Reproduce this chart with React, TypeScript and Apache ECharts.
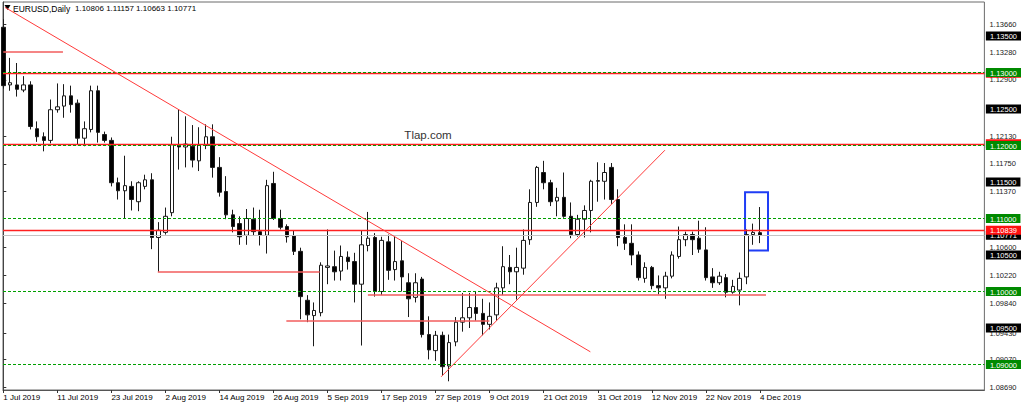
import React, { useEffect, useRef } from "react";
import * as echarts from "echarts";

// ---- data (daily EURUSD, 1 Jul 2019 .. 4 Dec 2019) ----
const opens = [
  1.1362, 1.1283, 1.1283, 1.1276, 1.1283, 1.1223, 1.1212, 1.1207, 1.1249, 1.1254,
  1.1268, 1.1258, 1.1210, 1.1222, 1.1275, 1.1215, 1.1207, 1.1149, 1.1138, 1.1144,
  1.1123, 1.1144, 1.1153, 1.1074, 1.1081, 1.1108, 1.1201, 1.1198, 1.1199, 1.1179,
  1.1200, 1.1212, 1.1170, 1.1137, 1.1105, 1.1093, 1.1077, 1.1099, 1.1082, 1.1077,
  1.1148, 1.1100, 1.1089, 1.1076, 1.1055, 1.0988, 1.0967, 1.0971, 1.1033, 1.1034,
  1.1028, 1.1047, 1.1041, 1.1010, 1.1063, 1.1074, 1.1000, 1.1068, 1.1030, 1.1042,
  1.1012, 1.0992, 1.1017, 1.0941, 1.0919, 1.0940, 1.0898, 1.0931, 1.0958, 1.0964,
  1.0978, 1.0970, 1.0955, 1.0968, 1.1005, 1.1033, 1.1027, 1.1032, 1.1071, 1.1122,
  1.1163, 1.1149, 1.1124, 1.1129, 1.1103, 1.1078, 1.1099, 1.1111, 1.1151, 1.1151,
  1.1170, 1.1126, 1.1074, 1.1066, 1.1050, 1.1018, 1.1033, 1.1008, 1.1005, 1.1021,
  1.1048, 1.1071, 1.1078, 1.1073, 1.1057, 1.1020, 1.1012, 1.1019, 1.0999, 1.1002,
  1.1020, 1.1078, 1.10806,
];
const highs = [
  1.1373, 1.1320, 1.1313, 1.1295, 1.1288, 1.1233, 1.1218, 1.1263, 1.1285, 1.1284,
  1.1282, 1.1263, 1.1233, 1.1282, 1.1282, 1.1219, 1.1211, 1.1156, 1.1186, 1.1151,
  1.1151, 1.1160, 1.1162, 1.1095, 1.1115, 1.1212, 1.1250, 1.1240, 1.1228, 1.1225,
  1.1229, 1.1229, 1.1184, 1.1158, 1.1112, 1.1103, 1.1113, 1.1115, 1.1112, 1.1153,
  1.1164, 1.1112, 1.1092, 1.1084, 1.1060, 1.0995, 1.0985, 1.1040, 1.1085, 1.1056,
  1.1063, 1.1055, 1.1053, 1.1083, 1.1109, 1.1080, 1.1075, 1.1078, 1.1075, 1.1069,
  1.1025, 1.1025, 1.1020, 1.0966, 1.0946, 1.0945, 1.0941, 1.0965, 1.0998, 1.0998,
  1.1000, 1.0990, 1.0985, 1.1012, 1.1062, 1.1050, 1.1060, 1.1085, 1.1140, 1.1172,
  1.1179, 1.1153, 1.1142, 1.1163, 1.1122, 1.1105, 1.1118, 1.1153, 1.1177, 1.1176,
  1.1176, 1.1140, 1.1092, 1.1092, 1.1055, 1.1040, 1.1035, 1.1022, 1.1027, 1.1055,
  1.1089, 1.1082, 1.1082, 1.1097, 1.1088, 1.1032, 1.1027, 1.1024, 1.1016, 1.1026,
  1.1085, 1.1093, 1.11157,
];
const lows = [
  1.1278, 1.1275, 1.1267, 1.1273, 1.1222, 1.1205, 1.1192, 1.1203, 1.1245, 1.1238,
  1.1245, 1.1201, 1.1199, 1.1218, 1.1204, 1.1204, 1.1144, 1.1126, 1.1100, 1.1111,
  1.1110, 1.1140, 1.1058, 1.1027, 1.1078, 1.1103, 1.1167, 1.1170, 1.1170, 1.1165,
  1.1195, 1.1156, 1.1130, 1.1099, 1.1081, 1.1064, 1.1064, 1.1076, 1.1063, 1.1052,
  1.1098, 1.1085, 1.1067, 1.1050, 1.0962, 1.0958, 1.0925, 1.0966, 1.1010, 1.1015,
  1.1015, 1.1030, 1.0985, 1.0926, 1.1055, 1.0993, 1.0995, 1.1016, 1.1015, 1.1000,
  1.0965, 1.0985, 1.0937, 1.0907, 1.0905, 1.0885, 1.0877, 1.0925, 1.0945, 1.0950,
  1.0960, 1.0940, 1.0948, 1.0960, 1.0995, 1.1010, 1.0989, 1.1023, 1.1064, 1.1116,
  1.1140, 1.1117, 1.1103, 1.1101, 1.1073, 1.1075, 1.1074, 1.1081, 1.1123, 1.1126,
  1.1120, 1.1062, 1.1057, 1.1036, 1.1015, 1.1012, 1.1003, 1.0996, 1.0990, 1.1018,
  1.1045, 1.1062, 1.1050, 1.1053, 1.1015, 1.1005, 1.1009, 1.0992, 1.0997, 1.0981,
  1.1010, 1.1064, 1.10663,
];
const closes = [
  1.1282, 1.1286, 1.1277, 1.1283, 1.1226, 1.1212, 1.1207, 1.1249, 1.1253, 1.1268,
  1.1256, 1.1210, 1.1223, 1.1275, 1.1218, 1.1207, 1.1149, 1.1138, 1.1145, 1.1126,
  1.1149, 1.1153, 1.1074, 1.1084, 1.1103, 1.1201, 1.1198, 1.1202, 1.1180, 1.1201,
  1.1212, 1.1170, 1.1136, 1.1105, 1.1089, 1.1075, 1.1100, 1.1082, 1.1077, 1.1145,
  1.1100, 1.1088, 1.1075, 1.1055, 1.0993, 1.0968, 1.0974, 1.1036, 1.1035, 1.1027,
  1.1048, 1.1041, 1.1010, 1.1064, 1.1073, 1.1000, 1.1070, 1.1029, 1.1041, 1.1020,
  1.0990, 1.1012, 1.0941, 1.0920, 1.0940, 1.0897, 1.0930, 1.0958, 1.0964, 1.0978,
  1.0970, 1.0955, 1.0966, 1.1005, 1.1034, 1.1027, 1.1033, 1.1070, 1.1122, 1.1170,
  1.1149, 1.1123, 1.1129, 1.1103, 1.1078, 1.1099, 1.1111, 1.1151, 1.1152, 1.1163,
  1.1126, 1.1074, 1.1066, 1.1050, 1.1019, 1.1033, 1.1008, 1.1005, 1.1021, 1.1050,
  1.1071, 1.1078, 1.1071, 1.1058, 1.1019, 1.1012, 1.1021, 1.0999, 1.1007, 1.1018,
  1.1078, 1.1081, 1.10771,
];

const xTickIndex = [0, 8, 16, 24, 32, 40, 48, 56, 64, 72, 80, 88, 96, 104, 112];
const xTickLabels = [
  "1 Jul 2019", "11 Jul 2019", "23 Jul 2019", "2 Aug 2019", "14 Aug 2019",
  "26 Aug 2019", "5 Sep 2019", "17 Sep 2019", "27 Sep 2019", "9 Oct 2019",
  "21 Oct 2019", "31 Oct 2019", "12 Nov 2019", "22 Nov 2019", "4 Dec 2019",
];
const yTickValues = [
  1.1366, 1.1328, 1.129, 1.1213, 1.1175, 1.1137, 1.106, 1.1022, 1.0984, 1.0943, 1.0907, 1.0869,
];
const priceTagValues = [
  1.135, 1.1299, 1.13, 1.125, 1.12023, 1.12, 1.115, 1.11, 1.10771, 1.10839, 1.105, 1.1, 1.095, 1.09,
];
const priceTagKinds = [
  "k", "r", "g", "k", "r", "g", "k", "g", "k", "r", "k", "g", "k", "g",
];
const greenLevels = [1.13, 1.12, 1.11, 1.1, 1.09];
const redLevels = [1.1299, 1.12023, 1.10839];
const bidLevel = 1.10771;
// [fromIndex, toIndex, price]
const redSegments = [
  [0, 8.83, 1.13288],
  [22.87, 46.83, 1.10264],
  [41.9, 71.96, 1.09603],
  [53.97, 112.9, 1.09962],
];
// [fromIndex, fromPrice, toIndex, toPrice]
const trendLines = [
  [0.25, 1.13892, 86.9, 1.09174],
  [64.82, 1.08832, 97.94, 1.11936],
];
const boxArea = [109.8, 1.1136, 113.2, 1.10562];

const X_MIN = -0.0444;
const X_MAX = 145.23;
const Y_MAX = 1.139658;
const Y_MIN = 1.086507;

function lineSeries(name: string, data: any[], lineStyle: any, z: number) {
  return {
    name,
    type: "line",
    data: [],
    z,
    silent: true,
    markLine: {
      silent: true,
      precision: 6,
      symbol: ["none", "none"],
      label: { show: false },
      animation: false,
      lineStyle,
      data,
    },
  };
}

export default function App() {
  const ref = useRef<HTMLDivElement>(null);
  useEffect(() => {
    document.body.style.margin = "0";
    if (!ref.current) return;
    const chart = echarts.init(ref.current, null, { renderer: "svg" });
    const font = "Liberation Sans, Arial, sans-serif";
    const candleData = opens.map((o, i) => [i, o, closes[i], lows[i], highs[i]]);
    const fmt5 = (v: number) => v.toFixed(5);
    const rich: any = {
      k: { backgroundColor: "#000", color: "#fff", padding: [1, 4, 0, 4], fontSize: 7.5, lineHeight: 8, fontFamily: font },
      g: { backgroundColor: "#008a00", color: "#fff", padding: [1, 4, 0, 4], fontSize: 7.5, lineHeight: 8, fontFamily: font },
      r: { backgroundColor: "#ff1010", color: "#fff", padding: [1, 4, 0, 4], fontSize: 7.5, lineHeight: 8, fontFamily: font },
    };
    chart.setOption({
      animation: false,
      backgroundColor: "#fff",
      grid: {
        left: 3,
        right: 38.5,
        top: 2,
        bottom: 18,
        show: true,
        borderColor: "#6a6a6a",
        borderWidth: 1,
        containLabel: false,
      },
      xAxis: {
        type: "value",
        min: X_MIN,
        max: X_MAX,
        splitLine: { show: false },
        axisLine: { show: true, lineStyle: { color: "#555", width: 1 } },
        axisTick: { show: true, customValues: xTickIndex, length: 3, lineStyle: { color: "#333" } },
        axisLabel: {
          customValues: xTickIndex,
          formatter: (v: number) => {
            const k = xTickIndex.indexOf(Math.round(v));
            return k >= 0 ? xTickLabels[k] : "";
          },
          align: "left",
          margin: 3,
          fontSize: 8,
          color: "#000",
          fontFamily: font,
        },
      },
      yAxis: [
        {
          type: "value",
          position: "right",
          min: Y_MIN,
          max: Y_MAX,
          scale: true,
          splitLine: { show: false },
          axisLine: { show: true, lineStyle: { color: "#444", width: 1 } },
          axisTick: { show: true, customValues: yTickValues, length: 3, lineStyle: { color: "#333" } },
          axisLabel: {
            customValues: yTickValues,
            formatter: (v: number) => fmt5(v),
            margin: 5,
            fontSize: 7.5,
            color: "#222",
            fontFamily: font,
          },
        },
        {
          type: "value",
          position: "right",
          min: Y_MIN,
          max: Y_MAX,
          scale: true,
          z: 5,
          splitLine: { show: false },
          axisLine: { show: false },
          axisTick: { show: false },
          axisLabel: {
            customValues: priceTagValues,
            formatter: (v: number) => {
              const k = priceTagValues.indexOf(v);
              const kind = k >= 0 ? priceTagKinds[k] : "k";
              return `{${kind}|${fmt5(v)}}`;
            },
            margin: 1.5,
            rich,
          },
        },
      ],
      graphic: [
        { type: "polygon", shape: { points: [[4.5, 5], [10.5, 5], [7.5, 10]] }, style: { fill: "#000" } },
        { type: "text", x: 13, y: 8.5, style: { text: "EURUSD,Daily", fontSize: 8.5, fontFamily: font, fill: "#000", verticalAlign: "middle" } },
        { type: "text", x: 75, y: 8.5, style: { text: "1.10806 1.11157 1.10663 1.10771", fontSize: 8, fontFamily: font, fill: "#000", verticalAlign: "middle" } },
        { type: "text", x: 428, y: 135, style: { text: "Tlap.com", fontSize: 11.5, fontFamily: font, fill: "#333", align: "center", verticalAlign: "middle" } },
      ],
      series: [
        lineSeries("bid", [{ yAxis: bidLevel }], { color: "#c4c4c4", width: 1, type: "solid" }, 3),
        lineSeries("redLevels", redLevels.map((v) => ({ yAxis: v })), { color: "#ff2020", width: 1.3, type: "solid" }, 3),
        lineSeries("greenLevels", greenLevels.map((v) => ({ yAxis: v })), { color: "#00a000", width: 1, type: [3, 2] }, 4),
        lineSeries(
          "redSegments",
          redSegments.map(([a, b, p]) => [{ coord: [a, p] }, { coord: [b, p] }]),
          { color: "#f25c5c", width: 1.5, type: "solid" },
          4
        ),
        lineSeries(
          "trendLines",
          trendLines.map(([a, p1, b, p2]) => [{ coord: [a, p1] }, { coord: [b, p2] }]),
          { color: "#ff3a3a", width: 1, type: "solid" },
          4
        ),
        {
          type: "candlestick",
          data: candleData,
          encode: { x: 0, y: [1, 2, 3, 4] },
          barWidth: 4,
          clip: true,
          z: 2,
          itemStyle: {
            color: "#ffffff",
            color0: "#000000",
            borderColor: "#1a1a1a",
            borderColor0: "#1a1a1a",
            borderWidth: 1,
          },
          markArea: {
            silent: true,
            label: { show: false },
            itemStyle: { color: "rgba(0,0,0,0)", borderColor: "#1f3df5", borderWidth: 2 },
            data: [[{ coord: [boxArea[0], boxArea[1]] }, { coord: [boxArea[2], boxArea[3]] }]],
          },
        },
      ],
    });
    return () => chart.dispose();
  }, []);
  return <div ref={ref} style={{ width: 1024, height: 408 }} />;
}
